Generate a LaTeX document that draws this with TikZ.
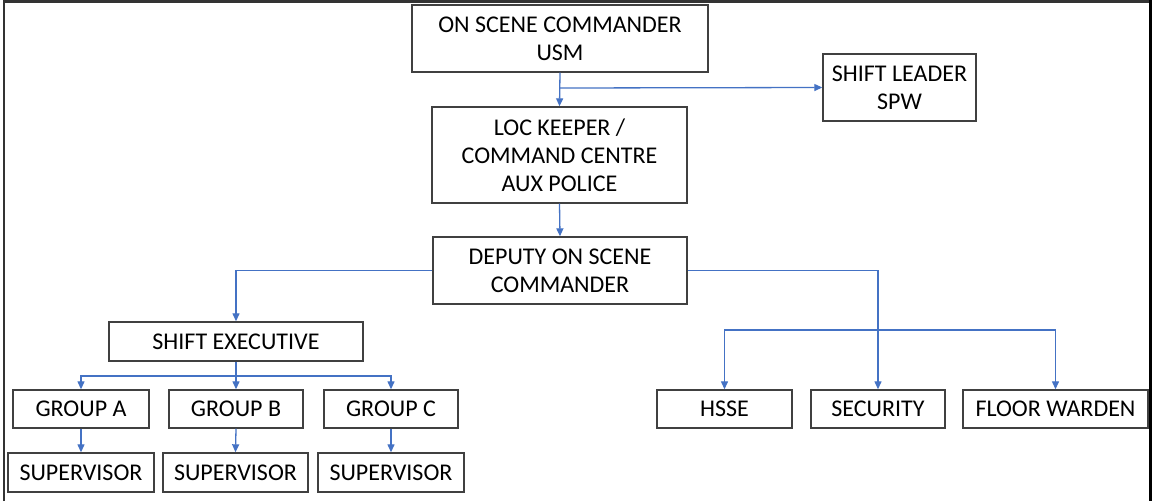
\documentclass[tikz,border=0pt]{standalone}
\usepackage{fontspec}
\setmainfont{Carlito}
\usetikzlibrary{arrows.meta}
\definecolor{boxline}{HTML}{404040}
\definecolor{conn}{HTML}{4472C4}
\begin{document}
\begin{tikzpicture}[x=1pt,y=-1pt,
  box/.style={draw=boxline, line width=1.4pt, fill=white, inner sep=0pt, align=center,
    font=\fontsize{24}{28}\selectfont},
  link/.style={draw=conn, line width=1.3pt},
  arr/.style={link, -{Triangle[length=8pt,width=7pt]}}]
\useasboundingbox (0,0) rectangle (1152,501);
\fill[white] (0,0) rectangle (1152,501);
% frame
\draw[line width=2.5pt, black!80] (4,501) -- (4,1.5) -- (1150,1.5);
\draw[line width=3pt, black] (1150.5,0) -- (1150.5,501);
% nodes
\node[box, minimum width=296, minimum height=67] (osc) at (560,38.5) {ON SCENE COMMANDER\\USM};
\node[box, minimum width=153, minimum height=67] (sl) at (899.5,87.5) {SHIFT LEADER\\SPW};
\node[box, minimum width=255, minimum height=96] (loc) at (559.5,155) {LOC KEEPER /\\COMMAND CENTRE\\AUX POLICE};
\node[box, minimum width=254, minimum height=67] (dep) at (560,270.5) {DEPUTY ON SCENE\\COMMANDER};
\node[box, minimum width=254, minimum height=39] (se) at (236,341.5) {SHIFT EXECUTIVE};
\node[box, minimum width=136, minimum height=38] (ga) at (81,409) {GROUP A};
\node[box, minimum width=134, minimum height=38] (gb) at (236,409) {GROUP B};
\node[box, minimum width=134, minimum height=38] (gc) at (391,409) {GROUP C};
\node[box, minimum width=146, minimum height=39] (s1) at (81,472.5) {SUPERVISOR};
\node[box, minimum width=145, minimum height=39] (s2) at (235.5,472.5) {SUPERVISOR};
\node[box, minimum width=146, minimum height=39] (s3) at (391,472.5) {SUPERVISOR};
\node[box, minimum width=135, minimum height=38] (hsse) at (724.5,409) {HSSE};
\node[box, minimum width=134, minimum height=38] (sec) at (878,409) {SECURITY};
\node[box, minimum width=185, minimum height=38] (fw) at (1055.5,409) {FLOOR WARDEN};
% coordinates
\coordinate (b1) at (560,88);
\coordinate (b2) at (878,330);
\coordinate (b3) at (236,376);
% connectors
\draw[arr] (osc.south) -- (loc.north);
\draw[arr] (b1) -- (sl.west);
\draw[arr] (loc.south) -- (dep.north);
\draw[arr] (dep.west) -| (se.north);
\draw[arr] (dep.east) -| (sec.north);
\draw[arr] (b2) -| (hsse.north);
\draw[arr] (b2) -| (fw.north);
\draw[link] (se.south) -- (b3);
\draw[arr] (b3) -| (ga.north);
\draw[arr] (b3) -- (gb.north);
\draw[arr] (b3) -| (gc.north);
\draw[arr] (ga.south) -- (s1.north);
\draw[arr] (gb.south) -- (s2.north);
\draw[arr] (gc.south) -- (s3.north);
\end{tikzpicture}
\end{document}
